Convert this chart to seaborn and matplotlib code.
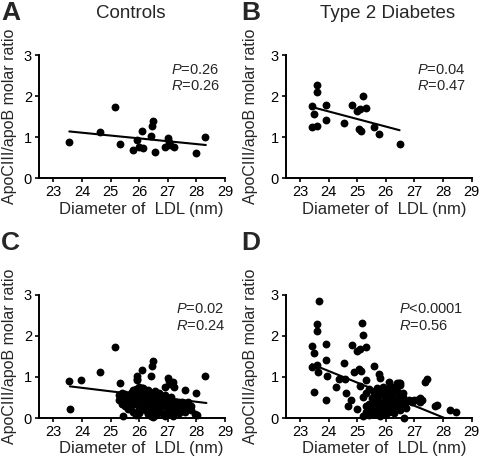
import matplotlib
matplotlib.use("Agg")
import matplotlib.pyplot as plt
import seaborn as sns
import pandas as pd

# ---------------- data ----------------
titles = ["Controls", "Type 2 Diabetes", "", ""]
panel_letters = ["A", "B", "C", "D"]
p_texts = ["=0.26", "=0.04", "=0.02", "<0.0001"]
r_texts = ["=0.26", "=0.47", "=0.24", "=0.56"]

a_x = [23.56, 24.63, 25.17, 25.33, 25.80, 25.92, 25.99, 26.09, 26.14, 26.40,
       26.44, 26.50, 26.57, 26.92, 27.00, 27.03, 27.08, 27.22, 27.99, 28.31]
a_y = [0.89, 1.13, 1.73, 0.84, 0.68, 0.93, 0.76, 1.16, 0.74, 1.02,
       1.27, 1.39, 0.65, 0.76, 0.98, 0.89, 0.82, 0.76, 0.61, 1.01]

b_x = [23.41, 23.50, 23.42, 23.58, 23.61, 23.61, 23.91, 23.91, 24.55, 24.83,
       25.00, 25.11, 25.06, 25.12, 25.19, 25.31, 25.58, 25.77, 26.48]
b_y = [1.76, 1.57, 1.24, 1.28, 2.28, 2.11, 1.79, 1.41, 1.34, 1.78,
       1.63, 1.69, 1.20, 1.14, 2.01, 1.72, 1.26, 1.08, 0.84]

c_extra_x = [23.60, 23.98, 25.45, 25.94, 25.94, 27.20, 27.60, 28.02, 27.95,
             25.3, 25.3,
             25.4, 25.4, 25.4,
             25.5, 25.5, 25.5,
             25.6, 25.6, 25.6,
             25.7, 25.7, 25.7,
             25.8, 25.8, 25.8,
             25.9, 25.9, 25.9, 25.9,
             26.0, 26.0, 26.0, 26.0,
             26.1, 26.1, 26.1, 26.1,
             26.2, 26.2, 26.2, 26.2,
             26.3, 26.3, 26.3, 26.3,
             26.4, 26.4, 26.4, 26.4,
             26.5, 26.5, 26.5, 26.5, 26.5,
             26.6, 26.6, 26.6, 26.6,
             26.7, 26.7, 26.7,
             26.8, 26.8, 26.8,
             26.9, 26.9, 26.9,
             27.0, 27.0, 27.0,
             27.1, 27.1,
             27.2, 27.2, 27.2,
             27.3, 27.3,
             27.4, 27.4,
             27.5, 27.5,
             27.6, 27.6,
             27.7, 27.7,
             27.8, 27.8]
c_extra_y = [0.21, 0.93, 0.06, 1.03, 0.96, 0.87, 0.67, 0.07, 0.10,
             0.55, 0.45,
             0.62, 0.35, 0.50,
             0.28, 0.58, 0.42,
             0.50, 0.22, 0.38,
             0.60, 0.45, 0.30,
             0.52, 0.15, 0.40,
             0.70, 0.48, 0.35, 0.08,
             0.55, 0.25, 0.62, 0.12,
             0.72, 0.45, 0.30, 0.55,
             0.60, 0.38, 0.20, 0.50,
             0.48, 0.68, 0.10, 0.30,
             0.55, 0.25, 0.05, 0.40,
             0.62, 0.45, 0.15, 0.35, 0.02,
             0.55, 0.30, 0.08, 0.50,
             0.40, 0.20, 0.60,
             0.35, 0.48, 0.12,
             0.28, 0.55, 0.05,
             0.42, 0.22, 0.10,
             0.50, 0.30,
             0.35, 0.18, 0.06,
             0.40, 0.25,
             0.30, 0.12,
             0.38, 0.22,
             0.32, 0.15,
             0.25, 0.40,
             0.30, 0.20]
c_x = a_x + c_extra_x
c_y = a_y + c_extra_y

d_extra_x = [23.68, 23.62, 23.50, 23.96, 23.90, 24.27, 24.36, 24.57, 24.60, 24.79,
             24.69, 24.87, 24.99, 25.18, 25.08, 25.30, 25.80,
             27.26, 27.44, 27.36, 27.78, 27.72, 28.23, 28.44, 26.62, 26.39, 26.47,
             27.0, 27.1,
             25.2, 25.2,
             25.3, 25.3, 25.3,
             25.4, 25.4, 25.4,
             25.5, 25.5, 25.5,
             25.6, 25.6, 25.6,
             25.7, 25.7, 25.7,
             25.8, 25.8, 25.8, 25.8,
             25.9, 25.9, 25.9, 25.9,
             26.0, 26.0, 26.0, 26.0,
             26.1, 26.1, 26.1, 26.1, 26.1,
             26.2, 26.2, 26.2, 26.2,
             26.3, 26.3, 26.3, 26.3,
             26.4, 26.4, 26.4,
             26.5, 26.5, 26.5, 26.5,
             26.6, 26.6, 26.6,
             26.7, 26.7,
             26.8,
             26.9, 26.9,
             27.2, 27.2]
d_extra_y = [2.85, 1.13, 0.63, 1.02, 0.45, 0.76, 0.94, 0.94, 0.62, 0.45,
             0.29, 1.12, 0.22, 2.32, 0.78, 0.93, 0.98,
             0.44, 0.94, 0.88, 0.32, 0.29, 0.20, 0.14, 0.00, 0.85, 0.85,
             0.44, 0.44,
             0.05, 0.50,
             0.30, 0.15, 0.62,
             0.35, 0.08, 0.70,
             0.20, 0.48, 0.30,
             0.62, 0.10, 0.38,
             0.25, 0.50, 0.72,
             0.40, 0.15, 0.60, 0.05,
             0.30, 0.55, 0.75, 0.20,
             0.45, 0.62, 0.10, 0.35,
             0.58, 0.28, 0.72, 0.15, 0.88,
             0.50, 0.40, 0.65, 0.25,
             0.60, 0.35, 0.75, 0.12,
             0.45, 0.65, 0.30,
             0.55, 0.20, 0.40, 0.80,
             0.50, 0.28, 0.62,
             0.40, 0.25,
             0.45,
             0.38, 0.42,
             0.48, 0.40]
d_x = b_x + d_extra_x
d_y = b_y + d_extra_y

# regression lines (end points, data units)
fit_a_x, fit_a_y = [23.56, 28.33], [1.14, 0.81]
fit_b_x, fit_b_y = [23.44, 26.48], [1.73, 1.17]
fit_c_x, fit_c_y = [23.58, 28.35], [0.77, 0.365]
fit_d_x, fit_d_y = [23.41, 28.05], [1.31, 0.00]

x_ticks = [23, 24, 25, 26, 27, 28, 29]
y_ticks = [0, 1, 2, 3]
x_label = "Diameter of  LDL (nm)"
y_label = "ApoCIII/apoB molar ratio"

# ---------------- style ----------------
sns.set_theme(style="ticks")
plt.rcParams["font.family"] = ["Liberation Sans", "DejaVu Sans"]
plt.rcParams["mathtext.fontset"] = "custom"
plt.rcParams["mathtext.it"] = "Liberation Sans:italic"
plt.rcParams["mathtext.rm"] = "Liberation Sans"

W, H = 480, 458
fig = plt.figure(figsize=(W / 100, H / 100), dpi=100)

# axes boxes in pixels: (left, axis y0 pixel from top); common width/height
boxes = [(39, 178.3), (285.7, 178.3), (39, 418.0), (285.7, 418.0)]
ax_w, ax_h = 186.0, 123.3

panels = [
    (a_x, a_y, fit_a_x, fit_a_y),
    (b_x, b_y, fit_b_x, fit_b_y),
    (c_x, c_y, fit_c_x, fit_c_y),
    (d_x, d_y, fit_d_x, fit_d_y),
]
stat_x = [27.1, 27.1, 27.3, 26.45]
xlabel_frac = [0.55, 0.53, 0.55, 0.53]

for i, ((px, py, fx, fy), (lft, y0)) in enumerate(zip(panels, boxes)):
    ax = fig.add_axes([lft / W, 1 - y0 / H, ax_w / W, ax_h / H])
    df = pd.DataFrame({"x": px, "y": py})
    sns.scatterplot(data=df, x="x", y="y", ax=ax, color="black", s=32,
                    linewidth=0, clip_on=False, zorder=3)
    fdf = pd.DataFrame({"x": fx, "y": fy})
    sns.lineplot(data=fdf, x="x", y="y", ax=ax, color="black", lw=1.5,
                 zorder=2)
    ax.set_xlim(22.5, 29)
    ax.set_ylim(0, 3)
    ax.set_xticks(x_ticks)
    ax.set_yticks(y_ticks)
    ax.set_xlabel("")
    ax.set_ylabel("")
    sns.despine(ax=ax)
    for s in ["left", "bottom"]:
        ax.spines[s].set_linewidth(1.4)
        ax.spines[s].set_color("black")
    ax.tick_params(axis="both", length=3, width=1.2, color="black",
                   labelsize=10.5, pad=2, labelcolor="black")
    ax.set_facecolor("white")

    ax.text(stat_x[i], 2.64, r"$\mathit{P}$" + p_texts[i], fontsize=10.5,
            ha="left", va="center")
    ax.text(stat_x[i], 2.24, r"$\mathit{R}$" + r_texts[i], fontsize=10.5,
            ha="left", va="center")
    ax.text(xlabel_frac[i], -0.25, x_label, transform=ax.transAxes,
            fontsize=12, ha="center", va="center")

    ylab_x = 10 if i in (0, 2) else 250
    ycen = y0 - ax_h / 2
    fig.text(ylab_x / W, 1 - ycen / H, y_label, rotation=90, fontsize=11.5,
             ha="center", va="center")

# titles and panel letters
fig.text(131 / W, 1 - 18 / H, titles[0], fontsize=13.5, ha="center",
         va="baseline")
fig.text(388 / W, 1 - 18 / H, titles[1], fontsize=13.5, ha="center",
         va="baseline")
letter_pos = [(1, 20), (241, 20), (1, 250), (241, 250)]
for letter, (lx, ly) in zip(panel_letters, letter_pos):
    fig.text(lx / W, 1 - ly / H, letter, fontsize=19, fontweight="bold",
             ha="left", va="baseline")

fig.savefig("out.png", dpi=100, facecolor="white")
